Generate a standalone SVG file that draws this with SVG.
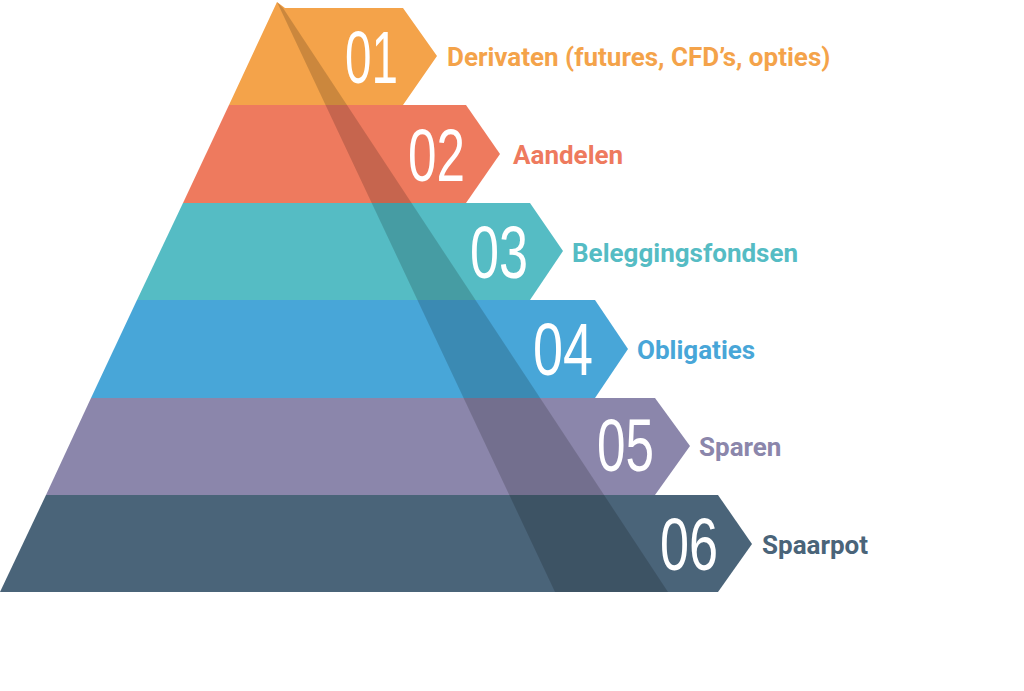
<svg xmlns="http://www.w3.org/2000/svg" width="1024" height="691" viewBox="0 0 1024 691">
<style>
.num{font-family:"Liberation Sans",Arial,sans-serif;font-size:74px;fill:#fff}
.lbl{font-family:Roboto,"Liberation Sans",sans-serif;font-weight:bold;font-size:26px}
</style>
<rect width="1024" height="691" fill="#fff"/>
<g id="band1"><polygon points="277,2 285,8 403,8 437,56 403,105 229,105" fill="#F4A34A"/></g>
<g id="band2"><polygon points="229,105 466,105 500,154 466,203 183,203" fill="#EE7A5E"/></g>
<g id="band3"><polygon points="183,203 530,203 563,251 530,300 137,300" fill="#55BCC4"/></g>
<g id="band4"><polygon points="137,300 595,300 628,349 595,398 91,398" fill="#48A6D8"/></g>
<g id="band5"><polygon points="91,398 655,398 690,446 655,495 46,495" fill="#8B86AB"/></g>
<g id="band6"><polygon points="46,495 718,495 752,544 718,592 0,592" fill="#4A6479"/></g>
<polygon points="277,2 283,8 668,592 555,592" fill="#000" opacity="0.17"/>
<g id="numbers">
<text class="num" x="345" y="83" textLength="53" lengthAdjust="spacingAndGlyphs">01</text>
<text class="num" x="408" y="181" textLength="57" lengthAdjust="spacingAndGlyphs">02</text>
<text class="num" x="470" y="278" textLength="58" lengthAdjust="spacingAndGlyphs">03</text>
<text class="num" x="533" y="375" textLength="60" lengthAdjust="spacingAndGlyphs">04</text>
<text class="num" x="597" y="471" textLength="57" lengthAdjust="spacingAndGlyphs">05</text>
<text class="num" x="660" y="570" textLength="58" lengthAdjust="spacingAndGlyphs">06</text>
</g>
<g id="labels">
<text class="lbl" x="447" y="66" fill="#F4A34A">Derivaten (futures, CFD’s, opties)</text>
<text class="lbl" x="513" y="164" fill="#EE7A5E">Aandelen</text>
<text class="lbl" x="572" y="262" fill="#55BCC4">Beleggingsfondsen</text>
<text class="lbl" x="637" y="359" fill="#48A6D8">Obligaties</text>
<text class="lbl" x="699" y="456" fill="#8B86AB">Sparen</text>
<text class="lbl" x="762" y="554" fill="#4A6479">Spaarpot</text>
</g>
</svg>
